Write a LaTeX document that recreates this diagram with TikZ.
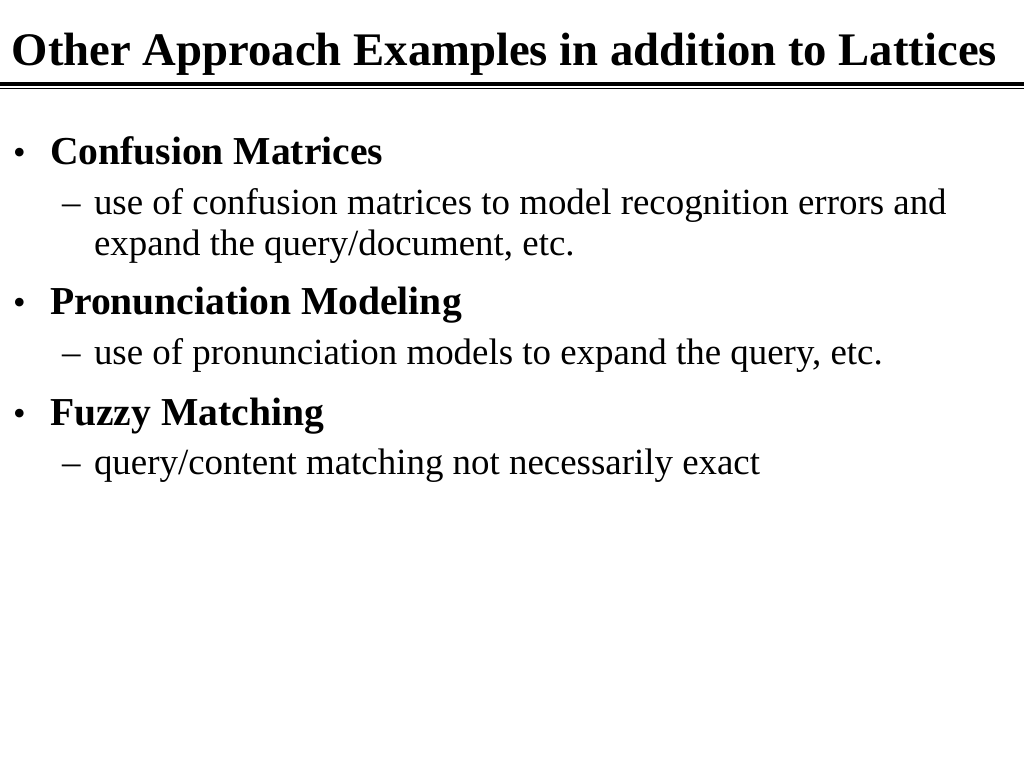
\documentclass[tikz,border=0pt]{standalone}
\usepackage{fontspec}
\setmainfont{Liberation Serif}
\begin{document}
\begin{tikzpicture}[x=1pt,y=-1pt,
  txt/.style={anchor=base west,inner sep=0pt,outer sep=0pt},
  ttl/.style={txt,font=\fontsize{46.7}{46.7}\selectfont\bfseries},
  lvlone/.style={txt,font=\fontsize{39.6}{39.6}\selectfont\bfseries},
  lvltwo/.style={txt,font=\fontsize{36.9}{36.9}\selectfont},
  bul/.style={txt,font=\fontsize{36}{36}\selectfont},
]
\useasboundingbox (0,0) rectangle (1024,768);
\fill[white] (0,0) rectangle (1024,768);
\node[ttl] (title) at (12,65) {Other Approach Examples in addition to Lattices};
\fill[black] (0,82) rectangle (1024,86);
\fill[black] (0,88) rectangle (1024,89.3);

\node[bul] (b1) at (13,164) {\textbullet};
\node[lvlone] (h1) at (50,164) {Confusion Matrices};
\node[lvltwo] (d1) at (62,214) {--};
\node[lvltwo] (s1a) at (94,214) {use of confusion matrices to model recognition errors and};
\node[lvltwo] (s1b) at (94,255) {expand the query/document, etc.};

\node[bul] (b2) at (13,314) {\textbullet};
\node[lvlone] (h2) at (50,314) {Pronunciation Modeling};
\node[lvltwo] (d2) at (62,364) {--};
\node[lvltwo] (s2) at (94,364) {use of pronunciation models to expand the query, etc.};

\node[bul] (b3) at (13,425) {\textbullet};
\node[lvlone] (h3) at (50,425) {Fuzzy Matching};
\node[lvltwo] (d3) at (62,474) {--};
\node[lvltwo] (s3) at (94,474) {query/content matching not necessarily exact};
\end{tikzpicture}
\end{document}
